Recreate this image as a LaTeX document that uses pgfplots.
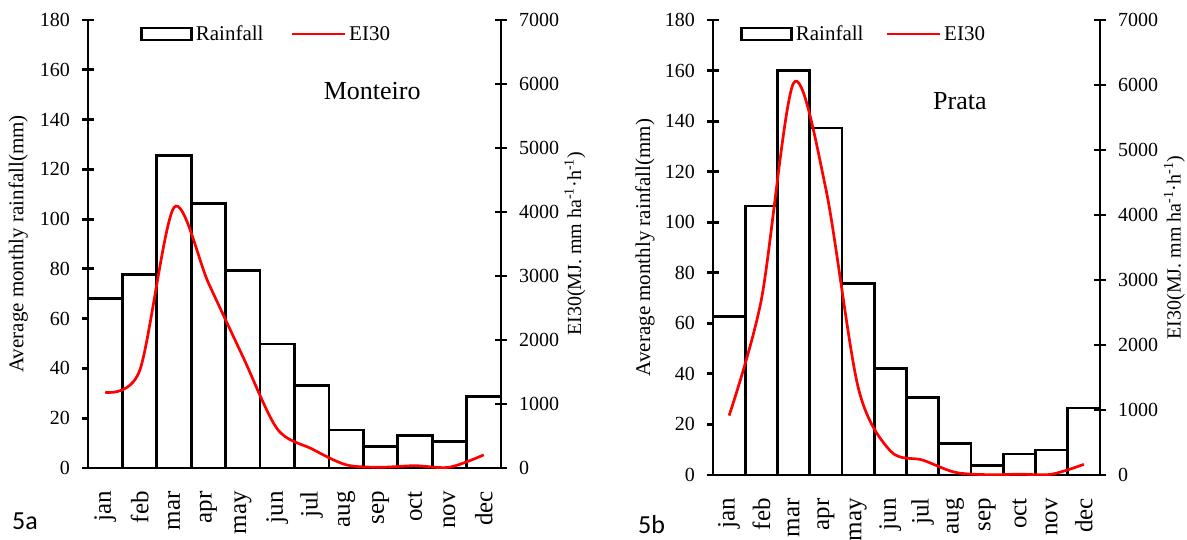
\documentclass[border=0pt]{standalone}
\usepackage{fontspec}
\setmainfont{Liberation Serif}
\newfontfamily\calibri{Carlito}
\usepackage{pgfplots}
\pgfplotsset{compat=1.18}
\pgfplotsset{
  baseax/.style={
    scale only axis, xmin=-0.5, xmax=11.5,
    axis line style={-, line width=2.8pt, black},
    major tick length=12pt, tick align=center,
    every tick/.style={line width=2.8pt, black},
    ticklabel style={font=\rmfamily\fontsize{20}{24}\selectfont},
    /pgf/number format/assume math mode=true,
    /pgf/number format/1000 sep={},
    scaled y ticks=false,
  },
  leftax/.style={
    baseax, ymin=0, ymax=180, ytick={0,20,...,180},
    axis y line*=left, axis x line*=bottom,
    xtick={0,...,11},
    xticklabels={jan,feb,mar,apr,may,jun,jul,aug,sep,oct,nov,dec},
    x tick style={draw=none}, major x tick style={draw=none},
    xticklabel style={rotate=90, anchor=east, inner sep=0pt, font=\rmfamily\fontsize{25}{30}\selectfont},
    xticklabel shift=17pt,
    yticklabel style={inner sep=0pt}, yticklabel shift=12pt,
    ylabel={Average monthly rainfall(mm)},
    clip=false,
  },
  rightax/.style={
    baseax, ymin=0, ymax=7000, ytick={0,1000,...,7000},
    axis y line*=right, axis x line=none,
    yticklabel style={inner sep=0pt}, yticklabel shift=12pt,
    ylabel={EI30(MJ. mm ha\textsuperscript{-1}·h\textsuperscript{-1})},
    legend columns=2,
  },
  barlegend/.style={legend image code/.code={\draw[line width=2.6pt, fill=white] (0pt,-6pt) rectangle (50pt,6pt);}},
  linelegend/.style={legend image code/.code={\draw[red, line width=2.7pt] (0pt,0pt) -- (53pt,0pt);}},
}
\begin{document}
\begin{tikzpicture}
% ---------------- Panel a ----------------
\begin{axis}[leftax, at={(88pt,71pt)}, anchor=south west, width=413pt, height=448pt,
  every axis y label/.style={at={(axis description cs:-0.169,0.5)}, rotate=90, anchor=center, font=\fontsize{21}{25}\selectfont}]
\addplot[ybar, bar width=1, fill=white, draw=black, line width=2.8pt] coordinates {
(0,68.2) (1,77.7) (2,125.5) (3,106.2) (4,79.4) (5,49.8) (6,33.1) (7,15.3) (8,8.6) (9,13.0) (10,10.6) (11,28.6)};
\node[font=\fontsize{26}{30}\selectfont] at (rel axis cs:0.688,0.841) {Monteiro};
\end{axis}
\begin{axis}[rightax, at={(88pt,71pt)}, anchor=south west, width=413pt, height=448pt,
  every axis y label/.style={at={(axis description cs:1.179,0.5)}, rotate=90, anchor=center, font=\fontsize{20}{24}\selectfont},
  legend style={at={(0.126,0.969)}, anchor=west, draw=none, fill=none, inner sep=0pt,
    font=\fontsize{21}{25}\selectfont, nodes={inner xsep=3pt, inner ysep=0pt},
    /tikz/every even column/.append style={column sep=24pt}}]
\addlegendimage{barlegend}
\addlegendentry{Rainfall}
\addplot[red, line width=2.7pt, smooth, linelegend] coordinates {
(0,1183) (1,1520) (2,4070) (3,2890) (4,1740) (5,610) (6,300) (7,50) (8,12) (9,36) (10,12) (11,205)};
\addlegendentry{EI30}
\end{axis}
% ---------------- Panel b ----------------
\begin{axis}[leftax, at={(713pt,64pt)}, anchor=south west, width=387pt, height=455pt,
  every axis y label/.style={at={(axis description cs:-0.176,0.5)}, rotate=90, anchor=center, font=\fontsize{21}{25}\selectfont}]
\addplot[ybar, bar width=1, fill=white, draw=black, line width=2.8pt] coordinates {
(0,62.6) (1,106.4) (2,160.0) (3,137.3) (4,75.9) (5,42.2) (6,30.6) (7,12.4) (8,3.8) (9,8.3) (10,9.9) (11,26.5)};
\node[font=\fontsize{26}{30}\selectfont] at (rel axis cs:0.638,0.821) {Prata};
\end{axis}
\begin{axis}[rightax, at={(713pt,64pt)}, anchor=south west, width=387pt, height=455pt,
  every axis y label/.style={at={(axis description cs:1.192,0.5)}, rotate=90, anchor=center, font=\fontsize{20}{24}\selectfont},
  legend style={at={(0.070,0.969)}, anchor=west, draw=none, fill=none, inner sep=0pt,
    font=\fontsize{21}{25}\selectfont, nodes={inner xsep=3pt, inner ysep=0pt},
    /tikz/every even column/.append style={column sep=19pt}}]
\addlegendimage{barlegend}
\addlegendentry{Rainfall}
\addplot[red, line width=2.7pt, smooth, linelegend] coordinates {
(0,914) (1,2700) (2,6030) (3,4400) (4,1350) (5,370) (6,230) (7,42) (8,5) (9,12) (10,12) (11,164)};
\addlegendentry{EI30}
\end{axis}
\node[anchor=base west, inner sep=0pt, font=\calibri\fontsize{26}{30}\selectfont] at (12pt,10pt) {5a};
\node[anchor=base west, inner sep=0pt, font=\calibri\fontsize{26}{30}\selectfont] at (638pt,6pt) {5b};
\pgfresetboundingbox
\useasboundingbox (0,0) rectangle (1187pt,539pt);
\end{tikzpicture}
\end{document}
